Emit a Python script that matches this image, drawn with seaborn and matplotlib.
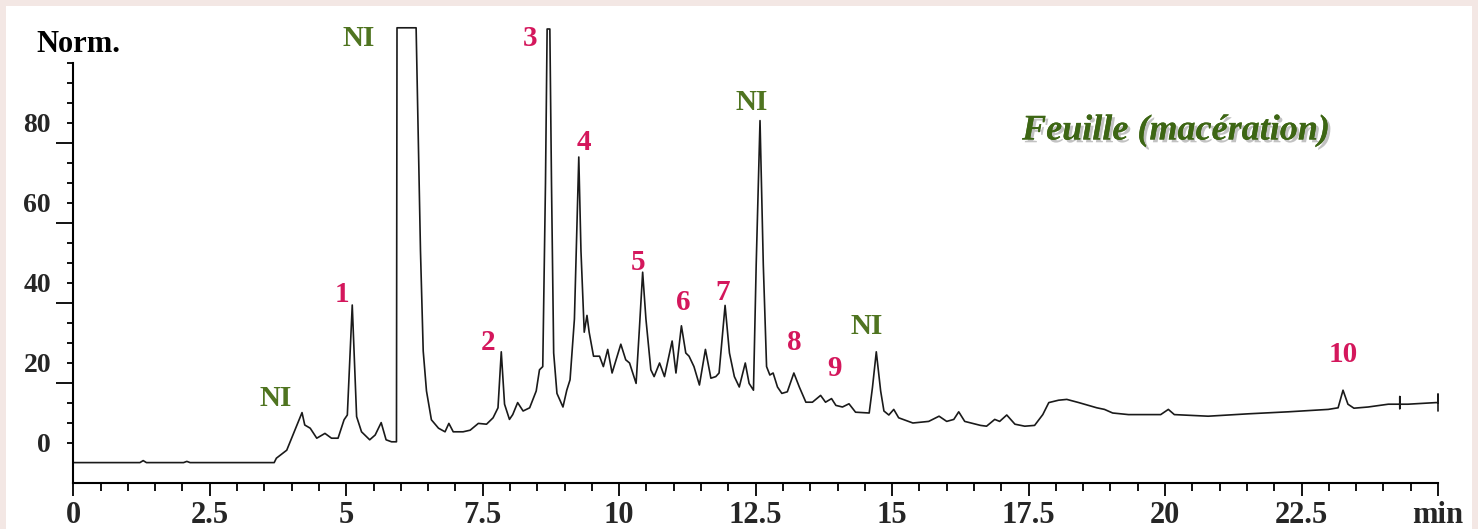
import numpy as np
import pandas as pd
import matplotlib.pyplot as plt
import matplotlib.patheffects as pe
from matplotlib.patches import Rectangle
import seaborn as sns

# chromatogram trace (min, Norm.)
time_min = [
    0.0, 1.22, 1.28, 1.34, 2.02, 2.08, 2.14, 3.68,
    3.72, 3.91, 4.06, 4.19, 4.24, 4.34, 4.46, 4.61, 4.73, 4.85, 4.96, 5.02,
    5.11, 5.19, 5.28, 5.43, 5.53, 5.64, 5.73, 5.83, 5.92,
    5.93, 6.28, 6.32, 6.36, 6.41, 6.47, 6.56, 6.69, 6.81, 6.88, 6.96,
    7.14, 7.27, 7.42, 7.57, 7.69, 7.78, 7.84, 7.90, 7.99, 8.05, 8.14,
    8.24, 8.36, 8.48, 8.54, 8.60, 8.65, 8.68, 8.73, 8.76, 8.80, 8.86,
    8.97, 9.04, 9.10, 9.18, 9.26, 9.30, 9.36, 9.41, 9.45, 9.53, 9.64,
    9.71, 9.79, 9.87, 10.03, 10.12, 10.19, 10.31, 10.37, 10.43, 10.49,
    10.58, 10.64, 10.74, 10.83, 10.97, 11.04, 11.14, 11.22, 11.28, 11.37,
    11.47, 11.58, 11.68, 11.77, 11.83, 11.94, 12.02, 12.11, 12.20, 12.31,
    12.38, 12.46, 12.51, 12.58, 12.64, 12.70, 12.76, 12.82, 12.90, 12.98,
    13.08, 13.20, 13.30, 13.42, 13.54, 13.69, 13.78, 13.89, 13.97, 14.09,
    14.21, 14.33, 14.58, 14.64, 14.71, 14.79, 14.85, 14.94, 15.03, 15.12,
    15.38, 15.67, 15.86, 16.00, 16.13, 16.22, 16.33, 16.62, 16.73, 16.88,
    16.97, 17.10, 17.25, 17.43, 17.61, 17.76, 17.87, 18.05, 18.20, 18.42,
    18.75, 18.89, 19.04, 19.33, 19.92, 20.06, 20.17, 20.79, 21.53, 22.26,
    22.99, 23.17, 23.26, 23.35, 23.46, 23.72, 24.09, 24.30, 24.30, 24.30,
    24.30, 24.45, 24.96, 25.0, 25.0, 25.0,
]
signal = [
    -4.9, -4.9, -4.4, -4.9, -4.9, -4.6, -4.9, -4.9,
    -3.8, -1.8, 3.2, 7.6, 4.5, 3.7, 1.2, 2.4, 1.2, 1.2, 5.8, 7.0,
    34.5, 6.6, 2.8, 0.8, 2.0, 5.1, 0.8, 0.3, 0.3,
    103.8, 103.8, 76.0, 48.0, 23.0, 13.0, 5.8, 3.7, 2.8, 4.9, 2.8,
    2.8, 3.2, 4.9, 4.7, 6.3, 8.8, 22.8, 9.7, 5.9, 7.1, 10.1,
    8.0, 8.8, 13.0, 18.3, 19.1, 65.0, 103.5, 103.5, 65.0, 22.5, 12.4,
    9.0, 13.2, 15.8, 31.0, 71.5, 48.0, 27.7, 31.9, 27.7, 21.7, 21.7,
    19.1, 23.4, 17.5, 24.7, 20.8, 20.0, 14.9, 28.5, 42.7, 31.0,
    18.3, 16.6, 20.0, 16.6, 25.5, 17.5, 29.3, 22.5, 21.7, 19.1,
    14.5, 23.4, 16.2, 16.6, 17.5, 34.4, 22.5, 16.6, 14.0, 20.0,
    14.9, 13.2, 44.6, 80.6, 44.6, 19.1, 17.0, 17.5, 14.0, 12.4,
    12.8, 17.5, 14.0, 10.2, 10.2, 11.9, 10.2, 11.1, 9.4, 9.0,
    9.8, 7.7, 7.5, 13.9, 22.8, 13.0, 8.0, 7.0, 8.4, 6.3,
    5.0, 5.4, 6.7, 5.4, 5.9, 7.8, 5.4, 4.4, 4.2, 5.9,
    5.4, 7.0, 4.7, 4.2, 4.4, 7.1, 10.1, 10.7, 10.9, 10.1,
    8.8, 8.4, 7.5, 7.1, 7.1, 8.4, 7.1, 6.7, 7.3, 7.8,
    8.4, 8.8, 13.2, 9.7, 8.7, 9.0, 9.7, 9.7, 11.6, 8.6,
    9.7, 9.7, 10.1, 10.1, 12.2, 8.0,
]

# peak labels
peak_labels = ["NI", "1", "NI", "2", "3", "4", "5", "6", "7", "NI", "8", "9", "NI", "10"]
peak_x = [3.70, 4.92, 5.22, 7.60, 8.37, 9.36, 10.35, 11.17, 11.89, 12.43, 13.20, 13.94, 14.54, 23.26]
peak_y = [11.0, 37.0, 101.0, 25.0, 101.0, 75.0, 45.0, 35.0, 37.5, 85.0, 25.0, 18.5, 29.0, 22.0]

x_ticks = [0, 2.5, 5, 7.5, 10, 12.5, 15, 17.5, 20, 22.5, 25]
x_tick_labels = ["0", "2.5", "5", "7.5", "10", "12.5", "15", "17.5", "20", "22.5", "min"]
y_label_values = [0, 20, 40, 60, 80]

df = pd.DataFrame({"time": time_min, "signal": signal})

sns.set_style("white")
plt.rcParams["font.family"] = ["Liberation Serif", "DejaVu Serif"]

fig = plt.figure(figsize=(14.78, 5.29), dpi=100, facecolor="#f3e7e4")
fig.patches.append(Rectangle((6 / 1478, 0), 1466 / 1478, 523 / 529,
                             transform=fig.transFigure, facecolor="white",
                             edgecolor="none", zorder=-5))
ax = fig.add_axes([73.3 / 1478, 46 / 529, (1438 - 73.3) / 1478, 463 / 529])
ax.set_facecolor("none")
ax.set_zorder(5)

sns.lineplot(data=df, x="time", y="signal", estimator=None, sort=False,
             color="#1a1a1a", linewidth=1.2, ax=ax)
for line in ax.lines:
    line.set_clip_on(False)
    line.set_solid_joinstyle("round")

ax.set_xlim(0, 25)
ax.set_ylim(-10, 105.75)
ax.set_xlabel("")
ax.set_ylabel("")

for side in ["top", "right"]:
    ax.spines[side].set_visible(False)
ax.spines["left"].set_bounds(-10, 95)
for side in ["left", "bottom"]:
    ax.spines[side].set_linewidth(1.5)
    ax.spines[side].set_color("black")

# x ticks
ax.set_xticks(x_ticks, labels=x_tick_labels)
ax.set_xticks(np.arange(0, 25.01, 0.5), minor=True)
ax.tick_params(axis="x", which="both", bottom=True, direction="out", width=1.3,
               color="black")
ax.tick_params(axis="x", which="major", length=9, pad=4, labelsize=22)
ax.tick_params(axis="x", which="minor", length=6)

# y ticks: long unlabeled ticks and short ticks carrying labels
long_ticks = [15, 35, 55, 75]
short_ticks = [v for v in range(0, 96, 5) if v not in long_ticks]
ax.set_yticks(long_ticks, labels=[""] * len(long_ticks))
ax.set_yticks(short_ticks,
              labels=[str(v) if v in y_label_values else "" for v in short_ticks],
              minor=True)
ax.tick_params(axis="y", which="both", left=True, direction="out", width=1.3,
               color="black")
ax.tick_params(axis="y", which="major", length=12)
ax.tick_params(axis="y", which="minor", length=4, pad=12, labelsize=20)
for lab in ax.get_xticklabels() + ax.get_yticklabels(minor=True):
    lab.set_fontweight("bold")

fig.text(78 / 1478, 1 - 44 / 529, "Norm.", ha="center", va="center",
         fontsize=22, fontweight="bold", color="black")

for lab, px, py in zip(peak_labels, peak_x, peak_y):
    col = "#4f7420" if lab == "NI" else "#d4175c"
    ax.text(px, py, lab, ha="center", va="center", fontsize=21,
            fontweight="bold", color=col)

ax.text(20.2, 78, "Feuille (macération)", ha="center", va="center",
        fontsize=26, fontweight="bold", fontstyle="italic", color="#3d6614",
        path_effects=[pe.withSimplePatchShadow(offset=(2, -2), shadow_rgbFace="#9a9a9a",
                                               alpha=0.6), pe.Normal()])

fig.savefig("out.png", dpi=100, facecolor=fig.get_facecolor())
